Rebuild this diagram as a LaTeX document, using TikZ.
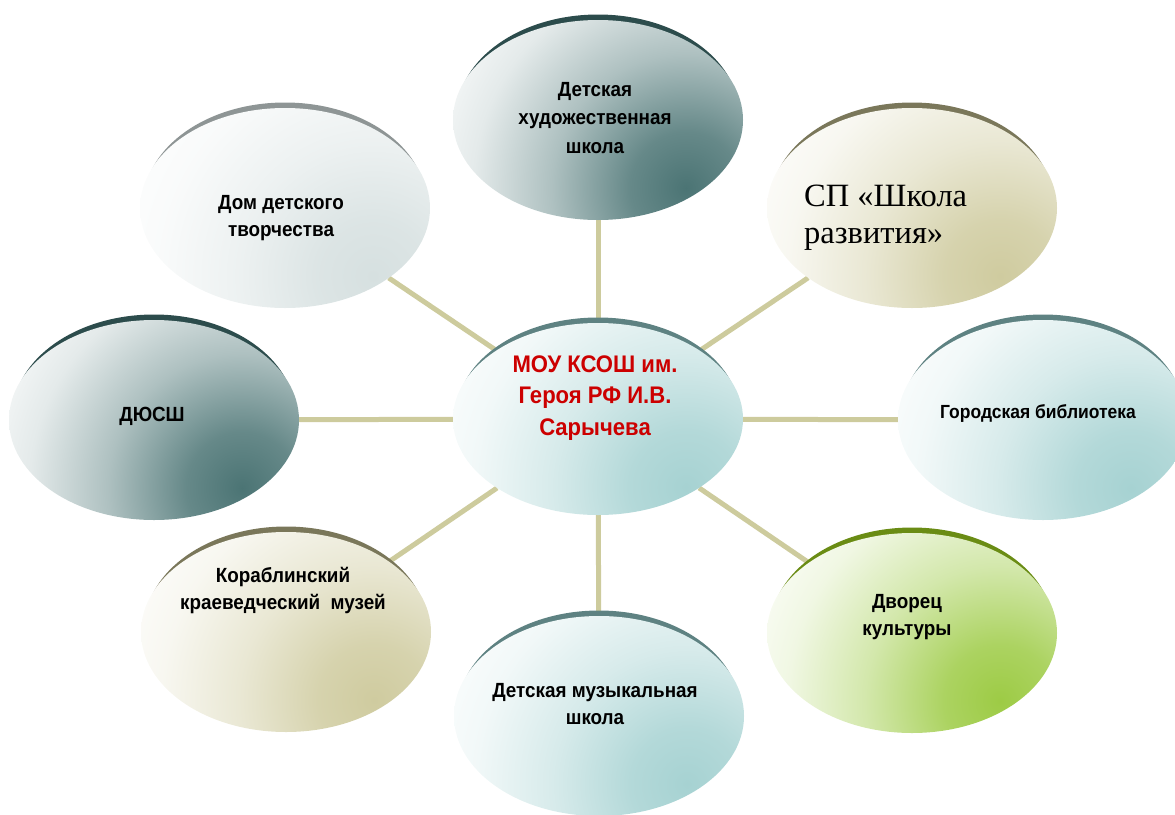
\documentclass[tikz,border=0pt]{standalone}
\usepackage{fontspec}
\setmainfont{Liberation Sans}
\newfontfamily\labelfont[FakeStretch=0.92]{Liberation Sans}
\newfontfamily\spfont{Liberation Serif}
\usetikzlibrary{shapes.geometric,backgrounds}

\definecolor{linkcol}{HTML}{CDCB9D}
\definecolor{tealdark}{HTML}{4B7474}
\definecolor{tealrim}{HTML}{2C4C4C}
\definecolor{teallight}{HTML}{A6D2D2}
\definecolor{teallightrim}{HTML}{5E8282}
\definecolor{khaki}{HTML}{CFCB9F}
\definecolor{khakirim}{HTML}{7A775A}
\definecolor{greyblue}{HTML}{D6E0E0}
\definecolor{greyrim}{HTML}{8E9595}
\definecolor{leaf}{HTML}{9DCB45}
\definecolor{leafrim}{HTML}{6A8C14}
\definecolor{schoolred}{HTML}{CC0000}
\colorlet{bubcol}{white}

\pgfdeclareradialshading[bubcol]{bubble}{\pgfpoint{0bp}{0bp}}{color(0bp)=(bubcol); color(5bp)=(bubcol!85!white); color(12bp)=(bubcol!45!white); color(19bp)=(bubcol!15!white); color(26bp)=(white); color(50bp)=(white)}

% name, centre, fill colour, rim colour, y radius
\newcommand{\bubble}[5]{%
  \colorlet{bubcol}{#3}%
  \fill[#4] ([yshift=5.5pt]#2) ellipse (141pt and #5pt);
  \node[ellipse, minimum width=290pt, minimum height=2*#5pt, inner sep=0pt, outer sep=0pt,
    path picture={\shade[shading=bubble] ([shift={(88pt,-68pt)}]path picture bounding box.center) circle (280pt);}] (#1) at (#2) {};
}

\begin{document}
\begin{tikzpicture}[x=1pt, y=-1pt,
    link/.style={draw=linkcol, line width=5pt},
    txt/.style={align=center, inner sep=0pt, font=\labelfont\bfseries\fontsize{20.5}{27}\selectfont}]
  \useasboundingbox (0,0) rectangle (1175,814);

  \bubble{art}{598,120}{tealdark}{tealrim}{100}
  \bubble{house}{285,208}{greyblue}{greyrim}{100}
  \bubble{dev}{912,208}{khaki}{khakirim}{100}
  \bubble{sport}{154,420}{tealdark}{tealrim}{100}
  \bubble{school}{598,419}{teallight}{teallightrim}{96}
  \bubble{library}{1043,420}{teallight}{teallightrim}{100}
  \bubble{museum}{286,632}{khaki}{khakirim}{100}
  \bubble{palace}{912,633}{leaf}{leafrim}{100}
  \bubble{music}{599,716}{teallight}{teallightrim}{100}

  \node[txt, font=\labelfont\bfseries\fontsize{20.5}{28.5}\selectfont] (artlbl) at (595,118) {Детская\\художественная\\школа};
  \node[txt] (houselbl) at (281,218) {Дом детского\\творчества};
  \node[align=left, inner sep=0pt, anchor=west, font=\spfont\fontsize{32.5}{37}\selectfont] (devlbl) at (804,218) {СП «Школа\\развития»};
  \node[txt] (sportlbl) at (152,416) {ДЮСШ};
  \node[txt, text=schoolred, font=\labelfont\bfseries\fontsize{24}{31.5}\selectfont] (schoollbl) at (595,398) {МОУ КСОШ им.\\Героя РФ И.В.\\Сарычева};
  \node[txt, font=\labelfont\bfseries\fontsize{19}{27}\selectfont] (librarylbl) at (1038,413) {Городская библиотека};
  \node[txt] (museumlbl) at (283,590) {Кораблинский\\краеведческий~~музей};
  \node[txt] (palacelbl) at (907,617) {Дворец\\культуры};
  \node[txt] (musiclbl) at (595,704) {Детская музыкальная\\школа};

  \begin{scope}[on background layer]
    \foreach \n in {art,house,dev,sport,library,museum,palace,music}
      \draw[link] (school) -- (\n);
  \end{scope}
\end{tikzpicture}
\end{document}
